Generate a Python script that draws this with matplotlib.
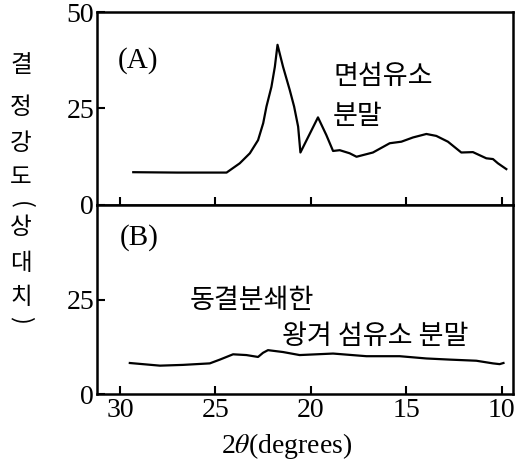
import matplotlib
matplotlib.use("Agg")
import matplotlib.pyplot as plt

plt.rcParams['mathtext.fontset'] = 'stix'

# Curve A: cotton cellulose powder
theta_a = [29.3, 27.0, 24.41, 23.72, 23.19, 22.76, 22.49, 22.32, 22.06, 21.88, 21.74,
           21.45, 21.1, 20.87, 20.66, 20.54, 19.62, 19.18, 18.83, 18.48, 17.96,
           17.6, 16.74, 15.86, 15.25, 14.64, 13.94, 13.42, 12.81, 12.11, 11.5,
           10.8, 10.45, 10.19, 9.75]
int_a = [8.5, 8.4, 8.4, 10.8, 13.4, 16.8, 21.2, 25.5, 30.6, 35.8, 41.5,
         35.8, 29.8, 25.5, 20.3, 13.6, 22.7, 18.1, 14.0, 14.2, 13.4,
         12.5, 13.6, 16.0, 16.4, 17.5, 18.4, 17.9, 16.4, 13.6, 13.7,
         12.1, 11.9, 10.8, 9.3]

# Curve B: freeze-milled rice husk cellulose powder
theta_b = [29.48, 27.9, 26.7, 25.29, 24.76, 24.07, 23.37, 22.76, 22.5, 22.24,
           21.45, 20.58, 18.83, 17.08, 15.34, 13.94, 12.72, 11.32, 10.45, 10.1, 9.9]
int_b = [8.2, 7.5, 7.7, 8.1, 9.1, 10.5, 10.3, 9.8, 10.9, 11.6,
         11.1, 10.3, 10.7, 10.0, 10.0, 9.4, 9.1, 8.8, 8.1, 7.9, 8.2]

xticks = [30, 25, 20, 15, 10]
yticks_a = [0, 25, 50]
yticks_b = [0, 25]

label_a = "(A)"
label_b = "(B)"
note_a = ["면섬유소", "분말"]
note_b = ["동결분쇄한", "왕겨 섬유소 분말"]
ylabel_chars = ["결", "정", "강", "도", "(", "상", "대", "치", ")"]
xlabel = r"2$\theta$(degrees)"

W, H = 520, 461
fig = plt.figure(figsize=(W / 100, H / 100), dpi=100)

def fx(px):
    return px / W

def fy(py):
    return 1 - py / H

left, right = 97, 513
axA = fig.add_axes([fx(left), fy(205), fx(right - left), fy(12) - fy(205)])
axB = fig.add_axes([fx(left), fy(394), fx(right - left), fy(205) - fy(394)])

kor = ['Noto Sans CJK KR', 'DejaVu Sans']
serif = 'Liberation Serif'

for ax in (axA, axB):
    ax.set_xlim(31.2, 9.4)
    ax.set_ylim(0, 50)
    ax.set_xticks(xticks)
    for sp in ax.spines.values():
        sp.set_linewidth(1.8)
    ax.tick_params(direction='in', length=6, width=1.5)

axA.plot(theta_a, int_a, color='black', lw=1.6)
axB.plot(theta_b, int_b, color='black', lw=1.6)

axA.set_yticks(yticks_a)
axA.set_yticklabels([str(v) for v in yticks_a], fontfamily=serif, fontsize=20)
axA.set_xticklabels([])
axB.set_yticks(yticks_b)
axB.set_yticklabels([str(v) for v in yticks_b], fontfamily=serif, fontsize=20)
axB.set_xticklabels([str(v) for v in xticks], fontfamily=serif, fontsize=20)
axA.tick_params(axis='y', pad=2)
axB.tick_params(axis='y', pad=2)
axB.tick_params(axis='x', pad=3)

axA.text(0.05, 0.75, label_a, transform=axA.transAxes, fontfamily=serif,
         fontsize=21, va='center', ha='left')
axB.text(0.055, 0.83, label_b, transform=axB.transAxes, fontfamily=serif,
         fontsize=21, va='center', ha='left')

fig.text(fx(333), fy(76), note_a[0], family=kor, fontsize=19.5, va='center', ha='left')
fig.text(fx(333), fy(116), note_a[1], family=kor, fontsize=19.5, va='center', ha='left')
fig.text(fx(190), fy(300), note_b[0], family=kor, fontsize=19.5, va='center', ha='left')
fig.text(fx(282), fy(336), note_b[1], family=kor, fontsize=19.5, va='center', ha='left')

ys = [65, 107, 143, 177, 205, 227, 263, 297, 320]
for ch, y in zip(ylabel_chars, ys):
    rot = -90 if ch in "()" else 0
    fig.text(fx(21), fy(y), ch, family=kor, fontsize=17, va='center', ha='center',
             rotation=rot)

fig.text(fx(287), fy(446), xlabel, fontfamily=serif, fontsize=20, va='center', ha='center')

fig.savefig("out.png", dpi=100)
